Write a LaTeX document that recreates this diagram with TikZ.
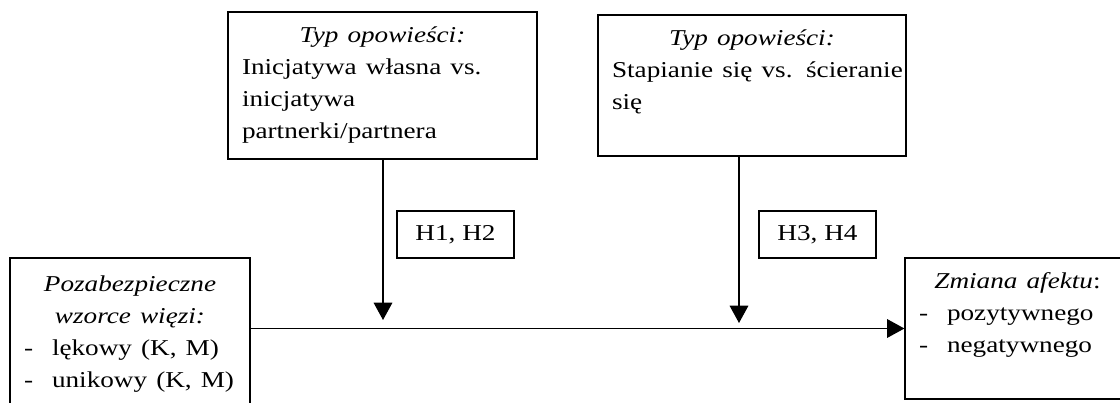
\documentclass[tikz,border=0pt]{standalone}
\usepackage{fontspec}
\setmainfont{Liberation Serif}
\usepackage{graphicx}
\usepackage{tikz}
\usetikzlibrary{arrows.meta}
\tikzset{ var_box/.style = {rectangle, draw, line width=0.9pt, align=left, inner xsep=10.5pt, inner ysep=0pt, font=\fontsize{17pt}{24pt}\selectfont} }
\tikzset{ hyp_box/.style = {rectangle, draw, line width=0.9pt, minimum width=87.75pt, minimum height=35.25pt, inner sep=0pt, font=\fontsize{17pt}{24pt}\selectfont} }
\tikzset{ link/.style = {line width=0.9pt, -{Triangle[length=13pt,width=14pt]}} }
\newcommand{\wide}[1]{\scalebox{1.2}[1]{#1}}
\newcommand{\listdash}{\makebox[21pt][l]{\wide{-}}}

\begin{document}
\begin{tikzpicture}[x=0.75pt, y=-0.75pt]
    \useasboundingbox (0,0) rectangle (1120,403);
    \node[var_box, text width=210.75pt, minimum height=110.25pt] (own) at (382.5,85.5)
        {\makebox[\hsize]{\wide{\textit{Typ opowieści:}}}\\ \wide{Inicjatywa własna vs.}\\ \wide{inicjatywa}\\ \wide{partnerki/partnera}};
    \node[var_box, text width=210pt, minimum height=105.75pt] (fuse) at (752,85.5)
        {\makebox[\hsize]{\wide{\textit{Typ opowieści:}}}\\ \wide{Stapianie się vs. ścieranie}\\ \wide{się}\\ \mbox{}};
    \node[var_box, text width=159pt, minimum height=134.25pt] (src) at (130,347.5)
        {\makebox[\hsize]{\wide{\textit{Pozabezpieczne}}}\\ \makebox[\hsize]{\wide{\textit{wzorce więzi:}}}\\ \listdash\wide{lękowy (K, M)}\\ \listdash\wide{unikowy (K, M)}\\ \mbox{}};
    \node[var_box, text width=147.75pt, minimum height=105.75pt] (out) at (1017.5,328.5)
        {\makebox[\hsize]{\wide{\textit{Zmiana afektu}:}}\\ \listdash\wide{pozytywnego}\\ \listdash\wide{negatywnego}\\ \mbox{}};
    \node[hyp_box] (hA) at (455.5,234.5) {\wide{H1, H2}};
    \node[hyp_box] (hB) at (817.5,234.5) {\wide{H3, H4}};
    \coordinate (hitA) at (383,320);
    \coordinate (hitB) at (739,323);
    \draw[link] (src.east |- out.west) -- (out.west);
    \draw[link] (own.south -| hitA) -- (hitA);
    \draw[link] (fuse.south -| hitB) -- (hitB);
\end{tikzpicture}
\end{document}
